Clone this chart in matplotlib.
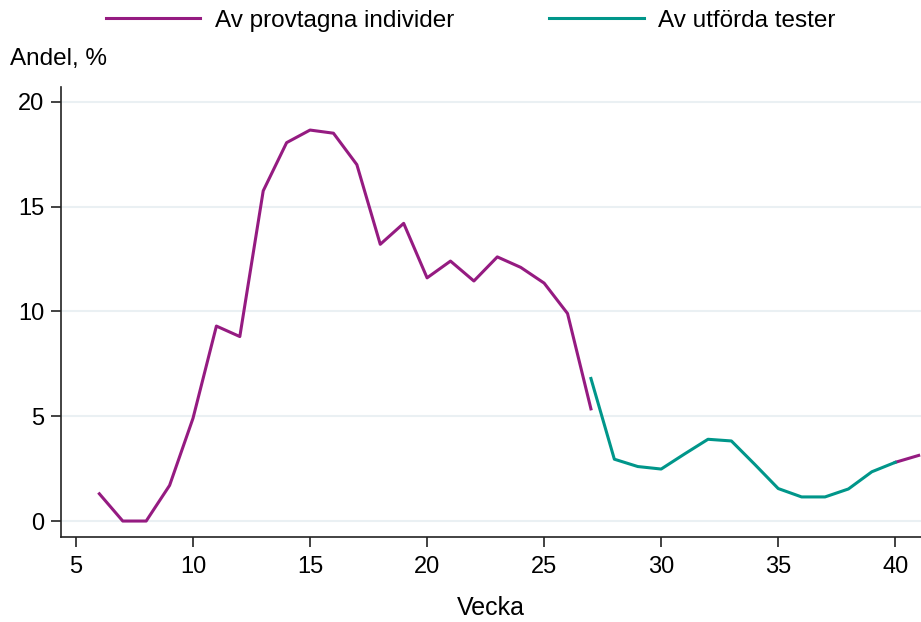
import numpy as np
import matplotlib.pyplot as plt

# veckor och andelar (%)
weeks_ind = [6, 7, 8, 9, 10, 11, 12, 13, 14, 15, 16, 17, 18, 19, 20, 21, 22, 23, 24, 25, 26, 27]
share_ind = [1.3, 0.0, 0.0, 1.7, 4.9, 9.3, 8.8, 15.75, 18.05, 18.65, 18.5, 17.0, 13.2, 14.2,
             11.6, 12.4, 11.45, 12.6, 12.1, 11.35, 9.9, 5.35]
weeks_ind2 = [40, 41]
share_ind2 = [2.8, 3.13]
weeks_test = [27, 28, 29, 30, 31, 32, 33, 34, 35, 36, 37, 38, 39, 40]
share_test = [6.8, 2.95, 2.6, 2.48, 3.2, 3.9, 3.82, 2.7, 1.55, 1.15, 1.15, 1.53, 2.35, 2.8]

purple = '#951b81'
teal = '#00968a'

plt.rcParams['font.family'] = ['Liberation Sans', 'DejaVu Sans']

fig = plt.figure(figsize=(9.21, 6.22), dpi=100)
ax = fig.add_axes([0.0662, 0.1367, 0.9338, 0.7233])

for y in [0, 5, 10, 15, 20]:
    ax.axhline(y, color='#eaf0f3', lw=1.5, zorder=0)

ax.plot(weeks_ind, share_ind, color=purple, lw=2.2, label='Av provtagna individer')
ax.plot(weeks_ind2, share_ind2, color=purple, lw=2.2)
ax.plot(weeks_test, share_test, color=teal, lw=2.2, label='Av utförda tester')

ax.set_xlim(4.36, 41.1)
ax.set_ylim(-0.76, 20.7)
ax.set_xticks([5, 10, 15, 20, 25, 30, 35, 40])
ax.set_yticks([0, 5, 10, 15, 20])
ax.tick_params(labelsize=17, length=7, width=1.2, color='#222222', pad=5)
ax.tick_params(axis='x', pad=7)

for s in ['top', 'right']:
    ax.spines[s].set_visible(False)
for s in ['left', 'bottom']:
    ax.spines[s].set_linewidth(1.2)
    ax.spines[s].set_color('#222222')

ax.set_xlabel('Vecka', fontsize=18, labelpad=13)
fig.text(0.011, 0.905, 'Andel, %', fontsize=17.5, ha='left', va='center')

fig.legend(loc='center', bbox_to_anchor=(0.511, 0.967), ncol=2, frameon=False,
           fontsize=17.5, handlelength=3.9, handletextpad=0.6, columnspacing=3.9)

fig.savefig('out.png', dpi=100)
